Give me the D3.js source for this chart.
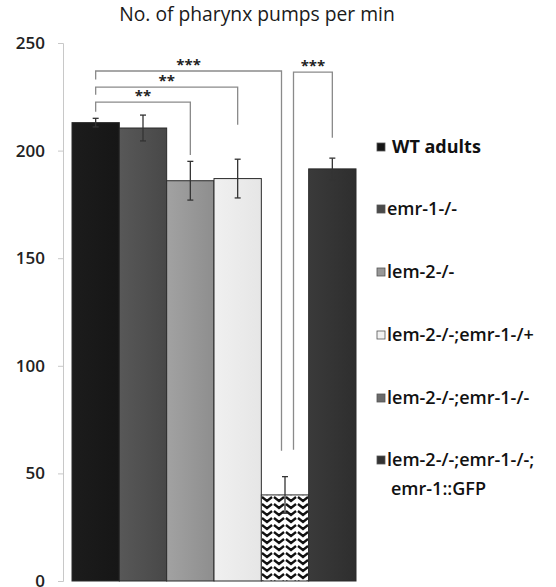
<!DOCTYPE html>
<html>
<head>
<meta charset="utf-8">
<script src="https://cdn.jsdelivr.net/npm/d3@7"></script>
<style>
  html, body { margin: 0; padding: 0; background: #fff; }
  svg { display: block; font-family: "Open Sans", "Noto Sans", sans-serif; }
</style>
</head>
<body>
<svg id="chart" width="556" height="587"></svg>
<script>
// strains
const strains = ["WT adults", "emr-1-/-", "lem-2-/-", "lem-2-/-;emr-1-/+", "lem-2-/-;emr-1-/-", "lem-2-/-;emr-1-/-;\nemr-1::GFP"];
const pumps = [213, 210.5, 186, 187, 40, 191.5];
const errors = [2, 6, 9, 9, 8.5, 5];
const yTicks = [0, 50, 100, 150, 200, 250];

// significance brackets: from bar, to bar, bracket level, end levels (data units)
const bracketFrom = [0, 0, 0, 4];
const bracketTo = [2, 3, 4, 5];
const bracketLevel = [222.5, 229.5, 237, 236.5];
const bracketLeftEnd = [218, 226, 233, 61];
const bracketRightEnd = [198, 212, 60.5, 206];
const bracketLabel = ["**", "**", "***", "***"];

const svg = d3.select("#chart");

const y = d3.scaleLinear().domain([0, 250]).range([581, 43]);
const x = d3.scaleBand().domain(d3.range(strains.length)).range([72, 356]).padding(0);

// fills
const defs = svg.append("defs");
const grad = (id, c1, c2) => {
  const g = defs.append("linearGradient").attr("id", id).attr("x1", 0).attr("x2", 1).attr("y1", 0).attr("y2", 0);
  g.append("stop").attr("offset", 0).attr("stop-color", c1);
  g.append("stop").attr("offset", 1).attr("stop-color", c2);
};
grad("g0", "#1c1c1c", "#161616");
grad("g1", "#585858", "#484848");
grad("g2", "#a2a2a2", "#8e8e8e");
grad("g3", "#f0f0f0", "#e6e6e6");
grad("g5", "#3a3a3a", "#2e2e2e");

// herringbone-like fill for the double mutant
const pat = defs.append("pattern").attr("id", "zig")
  .attr("patternUnits", "userSpaceOnUse")
  .attr("x", 261).attr("width", 12).attr("height", 7);
pat.append("rect").attr("width", 12).attr("height", 7).attr("fill", "#fff");
pat.append("path").attr("d", "M1,-7 L6,-3 L11,-7 M1,0 L6,4 L11,0 M1,7 L6,11 L11,7")
  .attr("fill", "none").attr("stroke", "#111").attr("stroke-width", 2.4);

const fills = ["url(#g0)", "url(#g1)", "url(#g2)", "url(#g3)", "url(#zig)", "url(#g5)"];
const swatch = ["#151515", "#4a4a4a", "#979797", "#f2f2f2", "#6a6a6a", "#333"];

// title
svg.append("text")
  .attr("x", 257).attr("y", 21)
  .attr("text-anchor", "middle")
  .attr("font-size", 19.3).attr("fill", "#1a1a1a")
  .text("No. of pharynx pumps per min");

// y axis
const axis = svg.append("g")
  .attr("transform", "translate(63,0)")
  .call(d3.axisLeft(y).tickValues(yTicks).tickSize(5).tickPadding(13));
axis.select(".domain").attr("stroke", "#c8c8c8");
axis.selectAll(".tick line").attr("stroke", "#c8c8c8");
axis.selectAll(".tick text")
  .attr("font-family", "'Open Sans', sans-serif")
  .attr("font-size", 17).attr("font-weight", 600).attr("fill", "#222");

// bars
svg.append("g").selectAll("rect")
  .data(pumps)
  .join("rect")
  .attr("x", (d, i) => x(i))
  .attr("y", d => y(d))
  .attr("width", x.bandwidth())
  .attr("height", d => y(0) - y(d))
  .attr("fill", (d, i) => fills[i])
  .attr("stroke", "#2a2a2a")
  .attr("stroke-width", 1);

// error bars
const eb = svg.append("g").attr("stroke", "#333").attr("stroke-width", 1.3);
pumps.forEach((v, i) => {
  const cx = x(i) + x.bandwidth() / 2;
  eb.append("line").attr("x1", cx).attr("x2", cx).attr("y1", y(v + errors[i])).attr("y2", y(v - errors[i]));
  eb.append("line").attr("x1", cx - 3).attr("x2", cx + 3).attr("y1", y(v + errors[i])).attr("y2", y(v + errors[i]));
  eb.append("line").attr("x1", cx - 3).attr("x2", cx + 3).attr("y1", y(v - errors[i])).attr("y2", y(v - errors[i]));
});

// significance brackets
const br = svg.append("g");
const nudgeL = [0, 0, 0, 8.5];
const nudgeR = [0, 0, -3.5, 0];
bracketFrom.forEach((f, k) => {
  const x1 = x(f) + x.bandwidth() / 2 + nudgeL[k];
  const x2 = x(bracketTo[k]) + x.bandwidth() / 2 + nudgeR[k];
  const yl = y(bracketLevel[k]);
  br.append("path")
    .attr("d", `M${x1},${y(bracketLeftEnd[k])}V${yl}H${x2}V${y(bracketRightEnd[k])}`)
    .attr("fill", "none").attr("stroke", "#8a8a8a").attr("stroke-width", 1.3);
  br.append("text")
    .attr("x", (x1 + x2) / 2).attr("y", yl - 1)
    .attr("text-anchor", "middle")
    .attr("font-size", 15).attr("font-weight", 700).attr("fill", "#222")
    .text(bracketLabel[k]);
});

// legend
const legendY = [147, 209, 272, 335, 398, 460];
const lg = svg.append("g");
strains.forEach((s, i) => {
  const ly = legendY[i];
  lg.append("rect")
    .attr("x", 377).attr("y", ly - 4).attr("width", 8).attr("height", 8)
    .attr("fill", swatch[i]).attr("stroke", "#555").attr("stroke-width", 0.8);
  const t = lg.append("text")
    .attr("y", ly + 6)
    .attr("font-size", 18).attr("font-weight", i === 0 ? 700 : 600).attr("fill", "#111");
  s.split("\n").forEach((line, j) => {
    t.append("tspan").attr("x", i === 0 ? 392 : (j ? 391 : 387)).attr("dy", j ? 29 : 0).text(line);
  });
});
</script>
</body>
</html>
